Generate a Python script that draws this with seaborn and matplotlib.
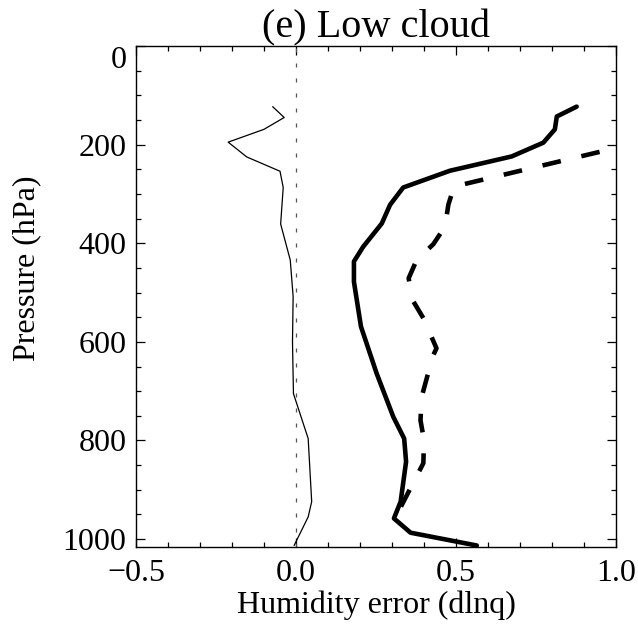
import numpy as np
import pandas as pd
import matplotlib
matplotlib.use("Agg")
import matplotlib.pyplot as plt
import seaborn as sns
from matplotlib.ticker import MultipleLocator

# thick solid curve
p_solid = [123, 143, 169, 196, 224, 253, 287, 322, 360, 407, 437, 478, 569,
           664, 752, 796, 843, 924, 958, 987, 1013]
err_solid = [0.877, 0.815, 0.809, 0.773, 0.674, 0.481, 0.335, 0.294, 0.268,
             0.210, 0.181, 0.181, 0.203, 0.252, 0.304, 0.338, 0.344, 0.327,
             0.306, 0.358, 0.565]

# thick dashed curve
p_dash = [196, 285, 322, 366, 402, 434, 471, 515, 552, 613, 630, 711, 759,
          799, 846, 958]
err_dash = [1.07, 0.494, 0.476, 0.466, 0.429, 0.377, 0.352, 0.364, 0.398,
            0.439, 0.427, 0.393, 0.389, 0.400, 0.398, 0.309]

# thin solid curve
p_thin = [123, 145, 169, 195, 225, 254, 287, 361, 434, 508, 600, 705, 796,
          924, 955, 1013]
err_thin = [-0.073, -0.037, -0.100, -0.212, -0.154, -0.050, -0.040, -0.048,
            -0.018, -0.009, -0.011, -0.008, 0.038, 0.049, 0.038, -0.006]

x_ticks = [-0.5, 0.0, 0.5, 1.0]
y_ticks = [0, 200, 400, 600, 800, 1000]

sns.set_theme(style="ticks")
plt.rcParams['font.family'] = ['Liberation Serif', 'DejaVu Serif']
plt.rcParams['axes.unicode_minus'] = True

fig = plt.figure(figsize=(6.38, 6.24), dpi=100)
ax = fig.add_axes([0.2132, 0.1234, 0.7523, 0.8029])

# zero reference
ax.axvline(0, color='#555555', lw=0.9, linestyle=(0, (3.2, 8.8)), zorder=1)

sns.lineplot(x=err_thin, y=p_thin, sort=False, estimator=None, ax=ax,
             color='black', lw=0.9)
sns.lineplot(x=err_solid, y=p_solid, sort=False, estimator=None, ax=ax,
             color='black', lw=3.3)
sns.lineplot(x=err_dash, y=p_dash, sort=False, estimator=None, ax=ax,
             color='black', lw=3.3, linestyle=(0, (4.1, 4.6)))

ax.set_xlim(-0.5, 1.0)
ax.set_ylim(1016, 0)
ax.set_xticks(x_ticks)
ax.set_yticks(y_ticks)
ax.xaxis.set_minor_locator(MultipleLocator(0.1))
ax.yaxis.set_minor_locator(MultipleLocator(50))
ax.set_xticklabels([f"{v:.1f}".replace('-', '\u2212') for v in x_ticks])
ax.set_yticklabels([str(v) for v in y_ticks])

ax.tick_params(which='both', direction='in', top=True, right=True,
               color='black', width=0.9, labelsize=23, labelcolor='black')
ax.tick_params(which='major', length=6.5)
ax.tick_params(which='minor', length=3.6)
ax.tick_params(axis='y', pad=7)
ax.tick_params(axis='x', pad=9)
for s in ax.spines.values():
    s.set_color('black')
    s.set_linewidth(1.0)

# top label sits below the axis edge
ax.get_yticklabels()[0].set_verticalalignment('top')

ax.set_xlabel('Humidity error (dlnq)', fontsize=23, color='black')
ax.set_ylabel('Pressure (hPa)', fontsize=23, color='black')
ax.xaxis.set_label_coords(0.5, -0.116)
ax.yaxis.set_label_coords(-0.227, 0.557)
ax.xaxis.label.set_verticalalignment('center')
ax.yaxis.label.set_verticalalignment('center')
ax.set_title('(e) Low cloud', fontsize=29, color='black', pad=6)

fig.savefig('out.png', dpi=100, facecolor='white')
